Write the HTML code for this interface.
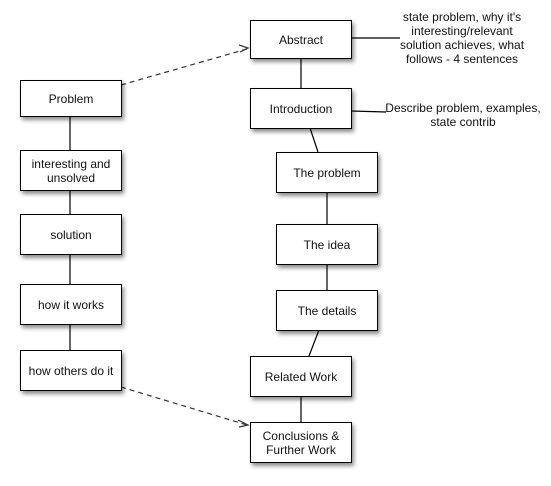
<!DOCTYPE html>
<html><head><style>
body{margin:0;background:#fff;width:551px;height:486px;position:relative;overflow:hidden;font-family:"Liberation Sans",sans-serif;}
.b{position:absolute;background:#fff;border:1px solid #000;box-sizing:border-box;box-shadow:2px 3px 4px rgba(0,0,0,0.45);display:flex;align-items:center;justify-content:center;text-align:center;font-size:12px;line-height:14px;color:#111;}
.t{position:absolute;text-align:center;font-size:12px;line-height:14px;color:#111;}
svg{position:absolute;left:0;top:0;}
</style></head><body>
<svg width="551" height="486">
<g stroke="#000" stroke-width="1.2" fill="none">
<line x1="70" y1="116" x2="70" y2="150"/>
<line x1="70" y1="190" x2="70" y2="214"/>
<line x1="70" y1="254" x2="70" y2="284"/>
<line x1="70" y1="324" x2="70" y2="350"/>
<line x1="301" y1="58" x2="301" y2="88"/>
<line x1="310" y1="128" x2="318" y2="152"/>
<line x1="327" y1="192" x2="327" y2="224"/>
<line x1="327" y1="264" x2="327" y2="290"/>
<line x1="319" y1="330" x2="309" y2="356"/>
<line x1="301" y1="396" x2="301" y2="422"/>
<line x1="351" y1="38" x2="400" y2="38"/>
<line x1="351" y1="111" x2="386" y2="112"/>
<line x1="121" y1="85" x2="247" y2="49" stroke-dasharray="5,4" stroke="#333"/>
<line x1="121" y1="387" x2="247" y2="425" stroke-dasharray="5,4" stroke="#333"/>
<polyline points="239,45 248,48 240,52" stroke="#333"/>
<polyline points="238,420 248,425 239,427" stroke="#333"/>
</g>
</svg>
<div class="b" style="left:20px;top:80px;width:102px;height:37px">Problem</div>
<div class="b" style="left:20px;top:150px;width:102px;height:41px">interesting and<br>unsolved</div>
<div class="b" style="left:20px;top:214px;width:102px;height:41px">solution</div>
<div class="b" style="left:20px;top:284px;width:102px;height:41px">how it works</div>
<div class="b" style="left:20px;top:350px;width:102px;height:41px">how others do it</div>
<div class="b" style="left:250px;top:20px;width:102px;height:39px">Abstract</div>
<div class="b" style="left:250px;top:88px;width:102px;height:41px">Introduction</div>
<div class="b" style="left:276px;top:152px;width:102px;height:41px">The problem</div>
<div class="b" style="left:276px;top:224px;width:102px;height:41px">The idea</div>
<div class="b" style="left:276px;top:290px;width:102px;height:41px">The details</div>
<div class="b" style="left:250px;top:356px;width:102px;height:41px">Related Work</div>
<div class="b" style="left:250px;top:422px;width:102px;height:41px">Conclusions &amp;<br>Further Work</div>
<div class="t" style="left:382px;top:10px;width:160px">state problem, why it's<br>interesting/relevant<br>solution achieves, what<br>follows - 4 sentences</div>
<div class="t" style="left:380px;top:101px;width:166px">Describe problem, examples,<br>state contrib</div>
</body></html>
